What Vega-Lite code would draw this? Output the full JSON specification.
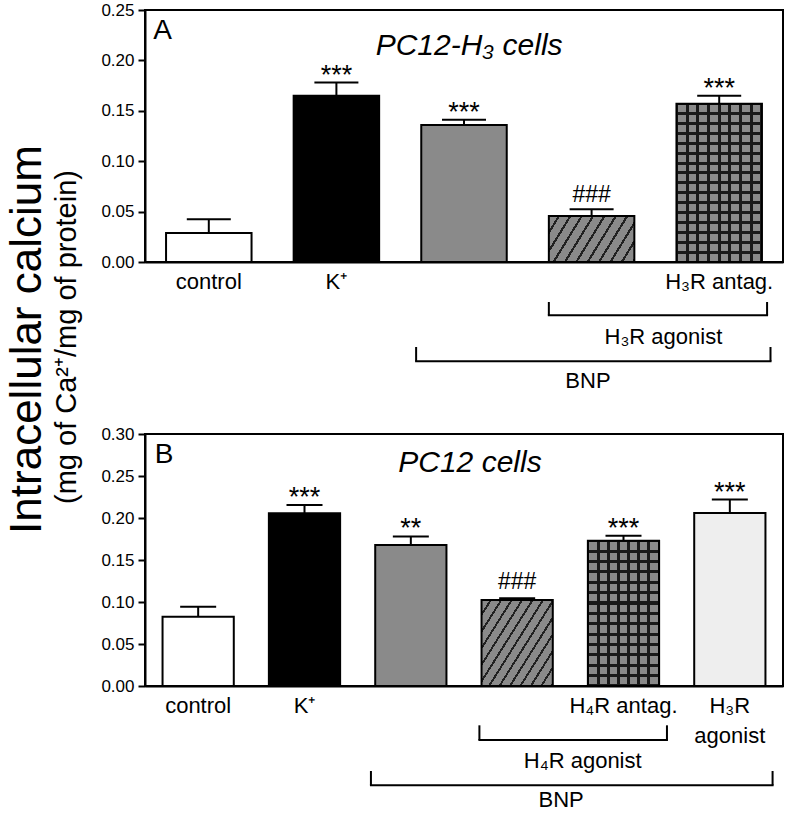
{
 "$schema": "https://vega.github.io/schema/vega-lite/v6.json",
 "padding": {"left": 4, "top": 0, "right": 0, "bottom": 0},
 "background": "white",
 "bounds": "flush",
 "spacing": 172,
 "config": {
  "font": "Liberation Sans",
  "view": {"stroke": "#000000", "strokeWidth": 2},
  "axis": {"domainColor": "#000000", "domainWidth": 2, "tickColor": "#000000", "tickWidth": 2, "labelColor": "#000000", "titleColor": "#000000", "grid": false, "labelFont": "Liberation Sans", "titleFont": "Liberation Sans", "titleFontWeight": "normal"},
  "text": {"font": "Liberation Sans", "color": "#000000"}
 },
 "datasets": {
  "bars": [
   {"panel": "A", "key": "control", "value": 0.0288, "hi": 0.0423, "sig": ""},
   {"panel": "A", "key": "K", "value": 0.165, "hi": 0.178, "sig": "***"},
   {"panel": "A", "key": "bnp", "value": 0.136, "hi": 0.141, "sig": "***"},
   {"panel": "A", "key": "agonist", "value": 0.0456, "hi": 0.0523, "sig": "###"},
   {"panel": "A", "key": "antag", "value": 0.157, "hi": 0.165, "sig": "***"},
   {"panel": "B", "key": "control", "value": 0.0825, "hi": 0.0944, "sig": ""},
   {"panel": "B", "key": "K", "value": 0.2056, "hi": 0.2155, "sig": "***"},
   {"panel": "B", "key": "bnp", "value": 0.168, "hi": 0.178, "sig": "**"},
   {"panel": "B", "key": "agonist", "value": 0.1024, "hi": 0.1045, "sig": "###"},
   {"panel": "B", "key": "antag", "value": 0.173, "hi": 0.179, "sig": "***"},
   {"panel": "B", "key": "dots", "value": 0.206, "hi": 0.222, "sig": "***"}
  ],
  "brackets": [
   {"panel": "A", "level": 1, "label": "H₃R agonist", "from": "agonist", "to": "antag"},
   {"panel": "A", "level": 2, "label": "BNP", "from": "bnp", "to": "antag"},
   {"panel": "B", "level": 1, "label": "H₄R agonist", "from": "agonist", "to": "antag"},
   {"panel": "B", "level": 2, "label": "BNP", "from": "bnp", "to": "dots"}
  ],
  "titles": [
   {"panel": "A", "title": "PC12-H₃ cells", "letter": "A"},
   {"panel": "B", "title": "PC12 cells", "letter": "B"}
  ]
 },
 "vconcat": [
  {
   "width": 638, "height": 252,
   "data": {"name": "bars"},
   "transform": [{"filter": "datum.panel=='A'"}],
   "layer": [
    {
     "mark": {"type": "bar", "opacity": 1},
     "encoding": {
      "x": {"field": "key", "type": "nominal", "sort": null,
       "scale": {"domain": ["control", "K", "bnp", "agonist", "antag"], "paddingInner": 0.33, "paddingOuter": 0.165},
       "axis": {"title": null, "ticks": false, "labelAngle": 0, "labelFontSize": 22, "labelPadding": 9, "labelBaseline": "top", "labelLineHeight": 30,
        "labelExpr": "datum.value == 'control' ? 'control' : datum.value == 'K' ? 'K⁺' : datum.value == 'antag' ? 'H₃R antag.' : ''"}},
      "y": {"field": "value", "type": "quantitative",
       "scale": {"domain": [0, 0.25], "nice": false},
       "axis": {"values": [0, 0.05, 0.1, 0.15, 0.2, 0.25], "format": ".2f", "labelFontSize": 17, "tickSize": 7, "labelPadding": 4,
        "title": "Intracellular calcium", "titleFontSize": 44, "titleX": -118, "titleY": 329, "titleAngle": -90, "titleAlign": "center", "titleBaseline": "middle"}},
      "color": {"field": "key", "type": "nominal", "legend": null,
       "scale": {"domain": ["control", "K", "bnp", "agonist", "antag", "dots"], "range": ["#ffffff", "#000000", "#8a8a8a", "#8a8a8a", "#8a8a8a", "#eeeeee"]}}
     }
    },
    {
     "transform": [{"filter": "datum.key=='agonist'"}],
     "mark": {"type": "bar", "opacity": 1, "fill": {"gradient": "linear", "x1": 0, "y1": 0, "x2": 1.2, "y2": 0.396, "stops": [
      {"offset": 0, "color": "#8a8a8a"}, {"offset": 0.078, "color": "#8a8a8a"}, {"offset": 0.078, "color": "#222222"}, {"offset": 0.1, "color": "#222222"},
      {"offset": 0.1, "color": "#8a8a8a"}, {"offset": 0.178, "color": "#8a8a8a"}, {"offset": 0.178, "color": "#222222"}, {"offset": 0.2, "color": "#222222"},
      {"offset": 0.2, "color": "#8a8a8a"}, {"offset": 0.278, "color": "#8a8a8a"}, {"offset": 0.278, "color": "#222222"}, {"offset": 0.3, "color": "#222222"},
      {"offset": 0.3, "color": "#8a8a8a"}, {"offset": 0.378, "color": "#8a8a8a"}, {"offset": 0.378, "color": "#222222"}, {"offset": 0.4, "color": "#222222"},
      {"offset": 0.4, "color": "#8a8a8a"}, {"offset": 0.478, "color": "#8a8a8a"}, {"offset": 0.478, "color": "#222222"}, {"offset": 0.5, "color": "#222222"},
      {"offset": 0.5, "color": "#8a8a8a"}, {"offset": 0.578, "color": "#8a8a8a"}, {"offset": 0.578, "color": "#222222"}, {"offset": 0.6, "color": "#222222"},
      {"offset": 0.6, "color": "#8a8a8a"}, {"offset": 0.678, "color": "#8a8a8a"}, {"offset": 0.678, "color": "#222222"}, {"offset": 0.7, "color": "#222222"},
      {"offset": 0.7, "color": "#8a8a8a"}, {"offset": 0.778, "color": "#8a8a8a"}, {"offset": 0.778, "color": "#222222"}, {"offset": 0.8, "color": "#222222"},
      {"offset": 0.8, "color": "#8a8a8a"}, {"offset": 0.878, "color": "#8a8a8a"}, {"offset": 0.878, "color": "#222222"}, {"offset": 0.9, "color": "#222222"},
      {"offset": 0.9, "color": "#8a8a8a"}, {"offset": 0.978, "color": "#8a8a8a"}, {"offset": 0.978, "color": "#222222"}, {"offset": 1, "color": "#222222"}]}},
     "encoding": {"x": {"field": "key", "type": "nominal"}, "y": {"field": "value", "type": "quantitative"}}
    },
    {
     "transform": [{"filter": "datum.key=='antag'"}],
     "mark": {"type": "bar", "opacity": 1, "fill": {"gradient": "linear", "x1": 0, "y1": 0, "x2": 1, "y2": 0, "stops": [
      {"offset": 0, "color": "#1a1a1a"}, {"offset": 0.01875, "color": "#1a1a1a"}, {"offset": 0.01875, "color": "rgba(0,0,0,0)"}, {"offset": 0.10625, "color": "rgba(0,0,0,0)"},
      {"offset": 0.10625, "color": "#1a1a1a"}, {"offset": 0.14375, "color": "#1a1a1a"}, {"offset": 0.14375, "color": "rgba(0,0,0,0)"}, {"offset": 0.23125, "color": "rgba(0,0,0,0)"},
      {"offset": 0.23125, "color": "#1a1a1a"}, {"offset": 0.26875, "color": "#1a1a1a"}, {"offset": 0.26875, "color": "rgba(0,0,0,0)"}, {"offset": 0.35625, "color": "rgba(0,0,0,0)"},
      {"offset": 0.35625, "color": "#1a1a1a"}, {"offset": 0.39375, "color": "#1a1a1a"}, {"offset": 0.39375, "color": "rgba(0,0,0,0)"}, {"offset": 0.48125, "color": "rgba(0,0,0,0)"},
      {"offset": 0.48125, "color": "#1a1a1a"}, {"offset": 0.51875, "color": "#1a1a1a"}, {"offset": 0.51875, "color": "rgba(0,0,0,0)"}, {"offset": 0.60625, "color": "rgba(0,0,0,0)"},
      {"offset": 0.60625, "color": "#1a1a1a"}, {"offset": 0.64375, "color": "#1a1a1a"}, {"offset": 0.64375, "color": "rgba(0,0,0,0)"}, {"offset": 0.73125, "color": "rgba(0,0,0,0)"},
      {"offset": 0.73125, "color": "#1a1a1a"}, {"offset": 0.76875, "color": "#1a1a1a"}, {"offset": 0.76875, "color": "rgba(0,0,0,0)"}, {"offset": 0.85625, "color": "rgba(0,0,0,0)"},
      {"offset": 0.85625, "color": "#1a1a1a"}, {"offset": 0.89375, "color": "#1a1a1a"}, {"offset": 0.89375, "color": "rgba(0,0,0,0)"}, {"offset": 0.98125, "color": "rgba(0,0,0,0)"},
      {"offset": 0.98125, "color": "#1a1a1a"}, {"offset": 1, "color": "#1a1a1a"}]}},
     "encoding": {"x": {"field": "key", "type": "nominal"}, "y": {"field": "value", "type": "quantitative"}}
    },
    {
     "transform": [{"filter": "datum.key=='antag'"}],
     "mark": {"type": "bar", "opacity": 1, "fill": {"gradient": "linear", "x1": 0, "y1": 0, "x2": 0, "y2": 1, "stops": [
      {"offset": 0, "color": "#1a1a1a"}, {"offset": 0.009375, "color": "#1a1a1a"}, {"offset": 0.009375, "color": "rgba(0,0,0,0)"}, {"offset": 0.053125, "color": "rgba(0,0,0,0)"},
      {"offset": 0.053125, "color": "#1a1a1a"}, {"offset": 0.071875, "color": "#1a1a1a"}, {"offset": 0.071875, "color": "rgba(0,0,0,0)"}, {"offset": 0.115625, "color": "rgba(0,0,0,0)"},
      {"offset": 0.115625, "color": "#1a1a1a"}, {"offset": 0.134375, "color": "#1a1a1a"}, {"offset": 0.134375, "color": "rgba(0,0,0,0)"}, {"offset": 0.178125, "color": "rgba(0,0,0,0)"},
      {"offset": 0.178125, "color": "#1a1a1a"}, {"offset": 0.196875, "color": "#1a1a1a"}, {"offset": 0.196875, "color": "rgba(0,0,0,0)"}, {"offset": 0.240625, "color": "rgba(0,0,0,0)"},
      {"offset": 0.240625, "color": "#1a1a1a"}, {"offset": 0.259375, "color": "#1a1a1a"}, {"offset": 0.259375, "color": "rgba(0,0,0,0)"}, {"offset": 0.303125, "color": "rgba(0,0,0,0)"},
      {"offset": 0.303125, "color": "#1a1a1a"}, {"offset": 0.321875, "color": "#1a1a1a"}, {"offset": 0.321875, "color": "rgba(0,0,0,0)"}, {"offset": 0.365625, "color": "rgba(0,0,0,0)"},
      {"offset": 0.365625, "color": "#1a1a1a"}, {"offset": 0.384375, "color": "#1a1a1a"}, {"offset": 0.384375, "color": "rgba(0,0,0,0)"}, {"offset": 0.428125, "color": "rgba(0,0,0,0)"},
      {"offset": 0.428125, "color": "#1a1a1a"}, {"offset": 0.446875, "color": "#1a1a1a"}, {"offset": 0.446875, "color": "rgba(0,0,0,0)"}, {"offset": 0.490625, "color": "rgba(0,0,0,0)"},
      {"offset": 0.490625, "color": "#1a1a1a"}, {"offset": 0.509375, "color": "#1a1a1a"}, {"offset": 0.509375, "color": "rgba(0,0,0,0)"}, {"offset": 0.553125, "color": "rgba(0,0,0,0)"},
      {"offset": 0.553125, "color": "#1a1a1a"}, {"offset": 0.571875, "color": "#1a1a1a"}, {"offset": 0.571875, "color": "rgba(0,0,0,0)"}, {"offset": 0.615625, "color": "rgba(0,0,0,0)"},
      {"offset": 0.615625, "color": "#1a1a1a"}, {"offset": 0.634375, "color": "#1a1a1a"}, {"offset": 0.634375, "color": "rgba(0,0,0,0)"}, {"offset": 0.678125, "color": "rgba(0,0,0,0)"},
      {"offset": 0.678125, "color": "#1a1a1a"}, {"offset": 0.696875, "color": "#1a1a1a"}, {"offset": 0.696875, "color": "rgba(0,0,0,0)"}, {"offset": 0.740625, "color": "rgba(0,0,0,0)"},
      {"offset": 0.740625, "color": "#1a1a1a"}, {"offset": 0.759375, "color": "#1a1a1a"}, {"offset": 0.759375, "color": "rgba(0,0,0,0)"}, {"offset": 0.803125, "color": "rgba(0,0,0,0)"},
      {"offset": 0.803125, "color": "#1a1a1a"}, {"offset": 0.821875, "color": "#1a1a1a"}, {"offset": 0.821875, "color": "rgba(0,0,0,0)"}, {"offset": 0.865625, "color": "rgba(0,0,0,0)"},
      {"offset": 0.865625, "color": "#1a1a1a"}, {"offset": 0.884375, "color": "#1a1a1a"}, {"offset": 0.884375, "color": "rgba(0,0,0,0)"}, {"offset": 0.928125, "color": "rgba(0,0,0,0)"},
      {"offset": 0.928125, "color": "#1a1a1a"}, {"offset": 0.946875, "color": "#1a1a1a"}, {"offset": 0.946875, "color": "rgba(0,0,0,0)"}, {"offset": 0.990625, "color": "rgba(0,0,0,0)"},
      {"offset": 0.990625, "color": "#1a1a1a"}, {"offset": 1, "color": "#1a1a1a"}]}},
     "encoding": {"x": {"field": "key", "type": "nominal"}, "y": {"field": "value", "type": "quantitative"}}
    },
    {
     "mark": {"type": "bar", "opacity": 1, "fillOpacity": 0, "stroke": "#000000", "strokeWidth": 2},
     "encoding": {"x": {"field": "key", "type": "nominal"}, "y": {"field": "value", "type": "quantitative"}}
    },
    {
     "mark": {"type": "rule", "color": "#000000", "strokeWidth": 2},
     "encoding": {"x": {"field": "key", "type": "nominal"}, "y": {"field": "value", "type": "quantitative"}, "y2": {"field": "hi"}}
    },
    {
     "mark": {"type": "tick", "size": 44, "thickness": 2, "color": "#000000", "opacity": 1},
     "encoding": {"x": {"field": "key", "type": "nominal"}, "y": {"field": "hi", "type": "quantitative"}}
    },
    {
     "transform": [{"filter": "indexof(datum.sig,'*')>=0"}],
     "mark": {"type": "text", "fontSize": 27, "baseline": "alphabetic", "dy": 1},
     "encoding": {"x": {"field": "key", "type": "nominal"}, "y": {"field": "hi", "type": "quantitative"}, "text": {"field": "sig"}}
    },
    {
     "transform": [{"filter": "indexof(datum.sig,'#')>=0"}],
     "mark": {"type": "text", "fontSize": 23, "baseline": "alphabetic", "dy": -7},
     "encoding": {"x": {"field": "key", "type": "nominal"}, "y": {"field": "hi", "type": "quantitative"}, "text": {"field": "sig"}}
    },
    {
     "data": {"name": "titles"},
     "transform": [{"filter": "datum.panel=='A'"}],
     "mark": {"type": "text", "fontSize": 30, "fontStyle": "italic", "baseline": "alphabetic", "align": "center"},
     "encoding": {"x": {"datum": "bnp", "bandPosition": 0.56}, "y": {"datum": 0.2054}, "text": {"field": "title"}}
    },
    {
     "data": {"name": "titles"},
     "transform": [{"filter": "datum.panel=='A'"}],
     "mark": {"type": "text", "fontSize": 28, "baseline": "alphabetic", "align": "left"},
     "encoding": {"x": {"datum": "control", "bandPosition": -0.15}, "y": {"datum": 0.2212}, "text": {"field": "letter"}}
    },
    {
     "data": {"name": "brackets"},
     "transform": [{"filter": "datum.panel=='A' && datum.level==1"}],
     "mark": {"type": "rule", "color": "#000000", "strokeWidth": 2, "strokeCap": "square"},
     "encoding": {"x": {"field": "from", "type": "nominal", "bandPosition": 0}, "x2": {"field": "to", "bandPosition": 1.06}, "y": {"datum": -0.0529}}
    },
    {
     "data": {"name": "brackets"},
     "transform": [{"filter": "datum.panel=='A' && datum.level==1"}],
     "mark": {"type": "rule", "color": "#000000", "strokeWidth": 2},
     "encoding": {"x": {"field": "from", "type": "nominal", "bandPosition": 0}, "y": {"datum": -0.0397}, "y2": {"datum": -0.0529}}
    },
    {
     "data": {"name": "brackets"},
     "transform": [{"filter": "datum.panel=='A' && datum.level==1"}],
     "mark": {"type": "rule", "color": "#000000", "strokeWidth": 2},
     "encoding": {"x": {"field": "to", "type": "nominal", "bandPosition": 1.06}, "y": {"datum": -0.0397}, "y2": {"datum": -0.0529}}
    },
    {
     "data": {"name": "brackets"},
     "transform": [{"filter": "datum.panel=='A' && datum.level==1"}],
     "mark": {"type": "text", "fontSize": 22, "baseline": "alphabetic", "align": "center"},
     "encoding": {"x": {"field": "from", "type": "nominal", "bandPosition": 1.34}, "y": {"datum": -0.081}, "text": {"field": "label"}}
    },
    {
     "data": {"name": "brackets"},
     "transform": [{"filter": "datum.panel=='A' && datum.level==2"}],
     "mark": {"type": "rule", "color": "#000000", "strokeWidth": 2, "strokeCap": "square"},
     "encoding": {"x": {"field": "from", "type": "nominal", "bandPosition": -0.06}, "x2": {"field": "to", "bandPosition": 1.1}, "y": {"datum": -0.0985}}
    },
    {
     "data": {"name": "brackets"},
     "transform": [{"filter": "datum.panel=='A' && datum.level==2"}],
     "mark": {"type": "rule", "color": "#000000", "strokeWidth": 2},
     "encoding": {"x": {"field": "from", "type": "nominal", "bandPosition": -0.06}, "y": {"datum": -0.0843}, "y2": {"datum": -0.0985}}
    },
    {
     "data": {"name": "brackets"},
     "transform": [{"filter": "datum.panel=='A' && datum.level==2"}],
     "mark": {"type": "rule", "color": "#000000", "strokeWidth": 2},
     "encoding": {"x": {"field": "to", "type": "nominal", "bandPosition": 1.1}, "y": {"datum": -0.0843}, "y2": {"datum": -0.0985}}
    },
    {
     "data": {"name": "brackets"},
     "transform": [{"filter": "datum.panel=='A' && datum.level==2"}],
     "mark": {"type": "text", "fontSize": 22, "baseline": "alphabetic", "align": "center"},
     "encoding": {"x": {"field": "from", "type": "nominal", "bandPosition": 1.95}, "y": {"datum": -0.125}, "text": {"field": "label"}}
    }
   ]
  },
  {
   "width": 638, "height": 252,
   "data": {"name": "bars"},
   "transform": [{"filter": "datum.panel=='B'"}],
   "layer": [
    {
     "mark": {"type": "bar", "opacity": 1},
     "encoding": {
      "x": {"field": "key", "type": "nominal", "sort": null,
       "scale": {"domain": ["control", "K", "bnp", "agonist", "antag", "dots"], "paddingInner": 0.33, "paddingOuter": 0.165},
       "axis": {"title": null, "ticks": false, "labelAngle": 0, "labelFontSize": 22, "labelPadding": 9, "labelBaseline": "top", "labelLineHeight": 30,
        "labelExpr": "datum.value == 'control' ? 'control' : datum.value == 'K' ? 'K⁺' : datum.value == 'antag' ? 'H₄R antag.' : datum.value == 'dots' ? ['H₃R', 'agonist'] : ''"}},
      "y": {"field": "value", "type": "quantitative",
       "scale": {"domain": [0, 0.3], "nice": false},
       "axis": {"values": [0, 0.05, 0.1, 0.15, 0.2, 0.25, 0.3], "format": ".2f", "labelFontSize": 17, "tickSize": 7, "labelPadding": 4,
        "title": "(mg of Ca²⁺/mg of protein)", "titleFontSize": 29, "titleX": -79, "titleY": -97.5, "titleAngle": -90, "titleAlign": "center", "titleBaseline": "middle"}},
      "color": {"field": "key", "type": "nominal", "legend": null,
       "scale": {"domain": ["control", "K", "bnp", "agonist", "antag", "dots"], "range": ["#ffffff", "#000000", "#8a8a8a", "#8a8a8a", "#8a8a8a", "#eeeeee"]}}
     }
    },
    {
     "transform": [{"filter": "datum.key=='agonist'"}],
     "mark": {"type": "bar", "opacity": 1, "fill": {"gradient": "linear", "x1": 0, "y1": 0, "x2": 1.117, "y2": 0.846, "stops": [
      {"offset": 0, "color": "#8a8a8a"}, {"offset": 0.065, "color": "#8a8a8a"}, {"offset": 0.065, "color": "#222222"}, {"offset": 0.0833, "color": "#222222"},
      {"offset": 0.0833, "color": "#8a8a8a"}, {"offset": 0.1483, "color": "#8a8a8a"}, {"offset": 0.1483, "color": "#222222"}, {"offset": 0.1667, "color": "#222222"},
      {"offset": 0.1667, "color": "#8a8a8a"}, {"offset": 0.2317, "color": "#8a8a8a"}, {"offset": 0.2317, "color": "#222222"}, {"offset": 0.25, "color": "#222222"},
      {"offset": 0.25, "color": "#8a8a8a"}, {"offset": 0.315, "color": "#8a8a8a"}, {"offset": 0.315, "color": "#222222"}, {"offset": 0.3333, "color": "#222222"},
      {"offset": 0.3333, "color": "#8a8a8a"}, {"offset": 0.3983, "color": "#8a8a8a"}, {"offset": 0.3983, "color": "#222222"}, {"offset": 0.4167, "color": "#222222"},
      {"offset": 0.4167, "color": "#8a8a8a"}, {"offset": 0.4817, "color": "#8a8a8a"}, {"offset": 0.4817, "color": "#222222"}, {"offset": 0.5, "color": "#222222"},
      {"offset": 0.5, "color": "#8a8a8a"}, {"offset": 0.565, "color": "#8a8a8a"}, {"offset": 0.565, "color": "#222222"}, {"offset": 0.5833, "color": "#222222"},
      {"offset": 0.5833, "color": "#8a8a8a"}, {"offset": 0.6483, "color": "#8a8a8a"}, {"offset": 0.6483, "color": "#222222"}, {"offset": 0.6667, "color": "#222222"},
      {"offset": 0.6667, "color": "#8a8a8a"}, {"offset": 0.7317, "color": "#8a8a8a"}, {"offset": 0.7317, "color": "#222222"}, {"offset": 0.75, "color": "#222222"},
      {"offset": 0.75, "color": "#8a8a8a"}, {"offset": 0.815, "color": "#8a8a8a"}, {"offset": 0.815, "color": "#222222"}, {"offset": 0.8333, "color": "#222222"},
      {"offset": 0.8333, "color": "#8a8a8a"}, {"offset": 0.8983, "color": "#8a8a8a"}, {"offset": 0.8983, "color": "#222222"}, {"offset": 0.9167, "color": "#222222"},
      {"offset": 0.9167, "color": "#8a8a8a"}, {"offset": 0.9817, "color": "#8a8a8a"}, {"offset": 0.9817, "color": "#222222"}, {"offset": 1, "color": "#222222"}]}},
     "encoding": {"x": {"field": "key", "type": "nominal"}, "y": {"field": "value", "type": "quantitative"}}
    },
    {
     "transform": [{"filter": "datum.key=='antag'"}],
     "mark": {"type": "bar", "opacity": 1, "fill": {"gradient": "linear", "x1": 0, "y1": 0, "x2": 1, "y2": 0, "stops": [
      {"offset": 0, "color": "#1a1a1a"}, {"offset": 0.0214, "color": "#1a1a1a"}, {"offset": 0.0214, "color": "rgba(0,0,0,0)"}, {"offset": 0.1214, "color": "rgba(0,0,0,0)"},
      {"offset": 0.1214, "color": "#1a1a1a"}, {"offset": 0.1643, "color": "#1a1a1a"}, {"offset": 0.1643, "color": "rgba(0,0,0,0)"}, {"offset": 0.2643, "color": "rgba(0,0,0,0)"},
      {"offset": 0.2643, "color": "#1a1a1a"}, {"offset": 0.3071, "color": "#1a1a1a"}, {"offset": 0.3071, "color": "rgba(0,0,0,0)"}, {"offset": 0.4071, "color": "rgba(0,0,0,0)"},
      {"offset": 0.4071, "color": "#1a1a1a"}, {"offset": 0.45, "color": "#1a1a1a"}, {"offset": 0.45, "color": "rgba(0,0,0,0)"}, {"offset": 0.55, "color": "rgba(0,0,0,0)"},
      {"offset": 0.55, "color": "#1a1a1a"}, {"offset": 0.5929, "color": "#1a1a1a"}, {"offset": 0.5929, "color": "rgba(0,0,0,0)"}, {"offset": 0.6929, "color": "rgba(0,0,0,0)"},
      {"offset": 0.6929, "color": "#1a1a1a"}, {"offset": 0.7357, "color": "#1a1a1a"}, {"offset": 0.7357, "color": "rgba(0,0,0,0)"}, {"offset": 0.8357, "color": "rgba(0,0,0,0)"},
      {"offset": 0.8357, "color": "#1a1a1a"}, {"offset": 0.8786, "color": "#1a1a1a"}, {"offset": 0.8786, "color": "rgba(0,0,0,0)"}, {"offset": 0.9786, "color": "rgba(0,0,0,0)"},
      {"offset": 0.9786, "color": "#1a1a1a"}, {"offset": 1, "color": "#1a1a1a"}]}},
     "encoding": {"x": {"field": "key", "type": "nominal"}, "y": {"field": "value", "type": "quantitative"}}
    },
    {
     "transform": [{"filter": "datum.key=='antag'"}],
     "mark": {"type": "bar", "opacity": 1, "fill": {"gradient": "linear", "x1": 0, "y1": 0, "x2": 0, "y2": 1, "stops": [
      {"offset": 0, "color": "#1a1a1a"}, {"offset": 0.0107, "color": "#1a1a1a"}, {"offset": 0.0107, "color": "rgba(0,0,0,0)"}, {"offset": 0.0607, "color": "rgba(0,0,0,0)"},
      {"offset": 0.0607, "color": "#1a1a1a"}, {"offset": 0.0821, "color": "#1a1a1a"}, {"offset": 0.0821, "color": "rgba(0,0,0,0)"}, {"offset": 0.1321, "color": "rgba(0,0,0,0)"},
      {"offset": 0.1321, "color": "#1a1a1a"}, {"offset": 0.1536, "color": "#1a1a1a"}, {"offset": 0.1536, "color": "rgba(0,0,0,0)"}, {"offset": 0.2036, "color": "rgba(0,0,0,0)"},
      {"offset": 0.2036, "color": "#1a1a1a"}, {"offset": 0.225, "color": "#1a1a1a"}, {"offset": 0.225, "color": "rgba(0,0,0,0)"}, {"offset": 0.275, "color": "rgba(0,0,0,0)"},
      {"offset": 0.275, "color": "#1a1a1a"}, {"offset": 0.2964, "color": "#1a1a1a"}, {"offset": 0.2964, "color": "rgba(0,0,0,0)"}, {"offset": 0.3464, "color": "rgba(0,0,0,0)"},
      {"offset": 0.3464, "color": "#1a1a1a"}, {"offset": 0.3679, "color": "#1a1a1a"}, {"offset": 0.3679, "color": "rgba(0,0,0,0)"}, {"offset": 0.4179, "color": "rgba(0,0,0,0)"},
      {"offset": 0.4179, "color": "#1a1a1a"}, {"offset": 0.4393, "color": "#1a1a1a"}, {"offset": 0.4393, "color": "rgba(0,0,0,0)"}, {"offset": 0.4893, "color": "rgba(0,0,0,0)"},
      {"offset": 0.4893, "color": "#1a1a1a"}, {"offset": 0.5107, "color": "#1a1a1a"}, {"offset": 0.5107, "color": "rgba(0,0,0,0)"}, {"offset": 0.5607, "color": "rgba(0,0,0,0)"},
      {"offset": 0.5607, "color": "#1a1a1a"}, {"offset": 0.5821, "color": "#1a1a1a"}, {"offset": 0.5821, "color": "rgba(0,0,0,0)"}, {"offset": 0.6321, "color": "rgba(0,0,0,0)"},
      {"offset": 0.6321, "color": "#1a1a1a"}, {"offset": 0.6536, "color": "#1a1a1a"}, {"offset": 0.6536, "color": "rgba(0,0,0,0)"}, {"offset": 0.7036, "color": "rgba(0,0,0,0)"},
      {"offset": 0.7036, "color": "#1a1a1a"}, {"offset": 0.725, "color": "#1a1a1a"}, {"offset": 0.725, "color": "rgba(0,0,0,0)"}, {"offset": 0.775, "color": "rgba(0,0,0,0)"},
      {"offset": 0.775, "color": "#1a1a1a"}, {"offset": 0.7964, "color": "#1a1a1a"}, {"offset": 0.7964, "color": "rgba(0,0,0,0)"}, {"offset": 0.8464, "color": "rgba(0,0,0,0)"},
      {"offset": 0.8464, "color": "#1a1a1a"}, {"offset": 0.8679, "color": "#1a1a1a"}, {"offset": 0.8679, "color": "rgba(0,0,0,0)"}, {"offset": 0.9179, "color": "rgba(0,0,0,0)"},
      {"offset": 0.9179, "color": "#1a1a1a"}, {"offset": 0.9393, "color": "#1a1a1a"}, {"offset": 0.9393, "color": "rgba(0,0,0,0)"}, {"offset": 0.9893, "color": "rgba(0,0,0,0)"},
      {"offset": 0.9893, "color": "#1a1a1a"}, {"offset": 1, "color": "#1a1a1a"}]}},
     "encoding": {"x": {"field": "key", "type": "nominal"}, "y": {"field": "value", "type": "quantitative"}}
    },
    {
     "mark": {"type": "bar", "opacity": 1, "fillOpacity": 0, "stroke": "#000000", "strokeWidth": 2},
     "encoding": {"x": {"field": "key", "type": "nominal"}, "y": {"field": "value", "type": "quantitative"}}
    },
    {
     "mark": {"type": "rule", "color": "#000000", "strokeWidth": 2},
     "encoding": {"x": {"field": "key", "type": "nominal"}, "y": {"field": "value", "type": "quantitative"}, "y2": {"field": "hi"}}
    },
    {
     "mark": {"type": "tick", "size": 36, "thickness": 2, "color": "#000000", "opacity": 1},
     "encoding": {"x": {"field": "key", "type": "nominal"}, "y": {"field": "hi", "type": "quantitative"}}
    },
    {
     "transform": [{"filter": "indexof(datum.sig,'*')>=0"}],
     "mark": {"type": "text", "fontSize": 27, "baseline": "alphabetic", "dy": 1},
     "encoding": {"x": {"field": "key", "type": "nominal"}, "y": {"field": "hi", "type": "quantitative"}, "text": {"field": "sig"}}
    },
    {
     "transform": [{"filter": "indexof(datum.sig,'#')>=0"}],
     "mark": {"type": "text", "fontSize": 23, "baseline": "alphabetic", "dy": -9},
     "encoding": {"x": {"field": "key", "type": "nominal"}, "y": {"field": "hi", "type": "quantitative"}, "text": {"field": "sig"}}
    },
    {
     "data": {"name": "titles"},
     "transform": [{"filter": "datum.panel=='B'"}],
     "mark": {"type": "text", "fontSize": 30, "fontStyle": "italic", "baseline": "alphabetic", "align": "center"},
     "encoding": {"x": {"datum": "bnp", "bandPosition": 1.33}, "y": {"datum": 0.255}, "text": {"field": "title"}}
    },
    {
     "data": {"name": "titles"},
     "transform": [{"filter": "datum.panel=='B'"}],
     "mark": {"type": "text", "fontSize": 28, "baseline": "alphabetic", "align": "left"},
     "encoding": {"x": {"datum": "control", "bandPosition": -0.11}, "y": {"datum": 0.2655}, "text": {"field": "letter"}}
    },
    {
     "data": {"name": "brackets"},
     "transform": [{"filter": "datum.panel=='B' && datum.level==1"}],
     "mark": {"type": "rule", "color": "#000000", "strokeWidth": 2, "strokeCap": "square"},
     "encoding": {"x": {"field": "from", "type": "nominal", "bandPosition": -0.03}, "x2": {"field": "to", "bandPosition": 1.11}, "y": {"datum": -0.0643}}
    },
    {
     "data": {"name": "brackets"},
     "transform": [{"filter": "datum.panel=='B' && datum.level==1"}],
     "mark": {"type": "rule", "color": "#000000", "strokeWidth": 2},
     "encoding": {"x": {"field": "from", "type": "nominal", "bandPosition": -0.03}, "y": {"datum": -0.0468}, "y2": {"datum": -0.0643}}
    },
    {
     "data": {"name": "brackets"},
     "transform": [{"filter": "datum.panel=='B' && datum.level==1"}],
     "mark": {"type": "rule", "color": "#000000", "strokeWidth": 2},
     "encoding": {"x": {"field": "to", "type": "nominal", "bandPosition": 1.11}, "y": {"datum": -0.0468}, "y2": {"datum": -0.0643}}
    },
    {
     "data": {"name": "brackets"},
     "transform": [{"filter": "datum.panel=='B' && datum.level==1"}],
     "mark": {"type": "text", "fontSize": 22, "baseline": "alphabetic", "align": "center"},
     "encoding": {"x": {"field": "from", "type": "nominal", "bandPosition": 1.42}, "y": {"datum": -0.0973}, "text": {"field": "label"}}
    },
    {
     "data": {"name": "brackets"},
     "transform": [{"filter": "datum.panel=='B' && datum.level==2"}],
     "mark": {"type": "rule", "color": "#000000", "strokeWidth": 2, "strokeCap": "square"},
     "encoding": {"x": {"field": "from", "type": "nominal", "bandPosition": -0.06}, "x2": {"field": "to", "bandPosition": 1.1}, "y": {"datum": -0.1182}}
    },
    {
     "data": {"name": "brackets"},
     "transform": [{"filter": "datum.panel=='B' && datum.level==2"}],
     "mark": {"type": "rule", "color": "#000000", "strokeWidth": 2},
     "encoding": {"x": {"field": "from", "type": "nominal", "bandPosition": -0.06}, "y": {"datum": -0.1012}, "y2": {"datum": -0.1182}}
    },
    {
     "data": {"name": "brackets"},
     "transform": [{"filter": "datum.panel=='B' && datum.level==2"}],
     "mark": {"type": "rule", "color": "#000000", "strokeWidth": 2},
     "encoding": {"x": {"field": "to", "type": "nominal", "bandPosition": 1.1}, "y": {"datum": -0.1012}, "y2": {"datum": -0.1182}}
    },
    {
     "data": {"name": "brackets"},
     "transform": [{"filter": "datum.panel=='B' && datum.level==2"}],
     "mark": {"type": "text", "fontSize": 22, "baseline": "alphabetic", "align": "center"},
     "encoding": {"x": {"field": "from", "type": "nominal", "bandPosition": 2.61}, "y": {"datum": -0.1445}, "text": {"field": "label"}}
    }
   ]
  }
 ]
}
